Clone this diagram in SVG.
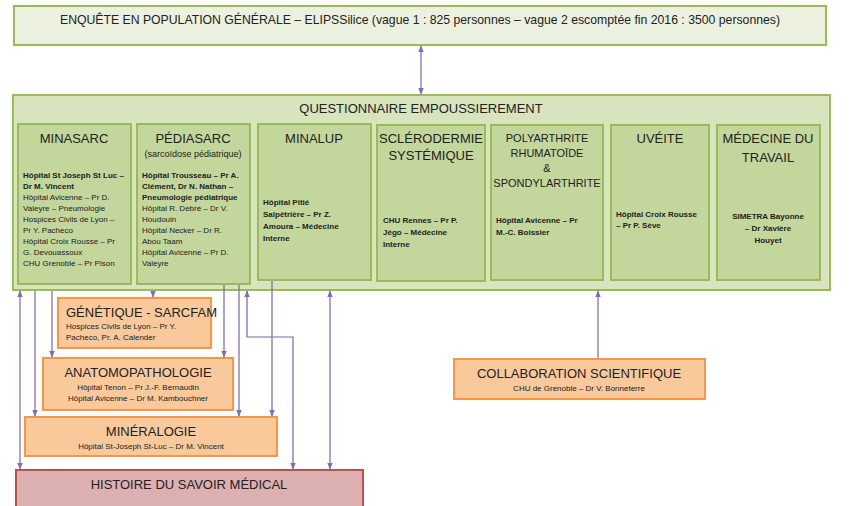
<svg xmlns="http://www.w3.org/2000/svg" width="850" height="506" viewBox="0 0 850 506">
<defs>
<marker id="ah" viewBox="0 0 10 10" refX="9" refY="5" markerWidth="6" markerHeight="6" orient="auto-start-reverse"><path d="M0,1 L10,5 L0,9 z" fill="#7e6bc4"/></marker>
<style>
text{font-family:"Liberation Sans Narrow","Liberation Sans",Arial,sans-serif;fill:#222}
.g1{fill:#ebf1de;stroke:#9bbb59;stroke-width:2}
.g2{fill:#d7e4bd;stroke:#9bbb59;stroke-width:2}
.g3{fill:#c3d69b;stroke:#9bbb59;stroke-width:2}
.o{fill:#f9c99c;stroke:#f79646;stroke-width:2}
.r{fill:#dcb0b0;stroke:#c0504d;stroke-width:2}
.t{font-size:13px;text-anchor:middle}
.s{font-size:8px}
.sb{font-size:8px;font-weight:bold}
.c{text-anchor:middle}
.ln{fill:none;stroke:#8064a2;stroke-width:1.2}
</style>
</defs>
<rect width="850" height="506" fill="#fff"/>
<g id="elips"><rect class="g1" x="14" y="6" width="812" height="39"/><text class="t" x="420" y="24" font-size="12" textLength="720" lengthAdjust="spacingAndGlyphs">ENQUÊTE EN POPULATION GÉNÉRALE – ELIPSSilice (vague 1 : 825 personnes – vague 2 escomptée fin 2016 : 3500 personnes)</text></g>
<g id="questionnaire"><rect class="g2" x="13" y="95" width="817" height="195"/><text class="t" x="421" y="113" font-size="12">QUESTIONNAIRE EMPOUSSIEREMENT</text></g>
<g id="minasarc"><rect class="g3" x="18" y="124" width="113" height="160"/><text class="t" x="74" y="143">MINASARC</text>
<text x="23" class="sb"><tspan x="23" y="178">Hôpital St Joseph St Luc –</tspan><tspan x="23" y="189">Dr M. Vincent</tspan></text>
<text class="s"><tspan x="23" y="200">Hôpital Avicenne – Pr D.</tspan><tspan x="23" y="211">Valeyre – Pneumologie</tspan><tspan x="23" y="222">Hospices Civils de Lyon –</tspan><tspan x="23" y="233">Pr Y. Pacheco</tspan><tspan x="23" y="244">Hôpital Croix Rousse – Pr</tspan><tspan x="23" y="255">G. Devouassoux</tspan><tspan x="23" y="266">CHU Grenoble – Pr Pison</tspan></text></g>
<g id="pediasarc"><rect class="g3" x="137" y="124" width="113" height="160"/><text class="t" x="193" y="143">PÉDIASARC</text><text class="c" x="193" y="157" font-size="9">(sarcoïdose pédiatrique)</text>
<text class="sb"><tspan x="142" y="178">Hôpital Trousseau – Pr A.</tspan><tspan x="142" y="189">Clément, Dr N. Nathan –</tspan><tspan x="142" y="200">Pneumologie pédiatrique</tspan></text>
<text class="s"><tspan x="142" y="211">Hôpital R. Debré – Dr V.</tspan><tspan x="142" y="222">Houdouin</tspan><tspan x="142" y="233">Hôpital Necker – Dr R.</tspan><tspan x="142" y="244">Abou Taam</tspan><tspan x="142" y="255">Hôpital Avicenne – Pr D.</tspan><tspan x="142" y="266">Valeyre</tspan></text></g>
<g id="minalup"><rect class="g3" x="258" y="124" width="113" height="156"/><text class="t" x="314" y="143">MINALUP</text>
<text class="sb"><tspan x="263" y="205">Hôpital Pitié</tspan><tspan x="263" y="217">Salpêtrière – Pr Z.</tspan><tspan x="263" y="229">Amoura – Médecine</tspan><tspan x="263" y="241">Interne</tspan></text></g>
<g id="sclero"><rect class="g3" x="377" y="125" width="108" height="156"/><text class="t" x="431" y="143">SCLÉRODERMIE</text><text class="t" x="431" y="160">SYSTÉMIQUE</text>
<text class="sb"><tspan x="383" y="223">CHU Rennes – Pr P.</tspan><tspan x="383" y="235">Jégo – Médecine</tspan><tspan x="383" y="247">Interne</tspan></text></g>
<g id="polyarthrite"><rect class="g3" x="491" y="125" width="112" height="155"/><text class="c" font-size="11"><tspan x="547" y="142">POLYARTHRITE</tspan><tspan x="547" y="157">RHUMATOÏDE</tspan><tspan x="547" y="172">&amp;</tspan><tspan x="547" y="187">SPONDYLARTHRITE</tspan></text>
<text class="sb"><tspan x="496" y="223">Hôpital Avicenne – Pr</tspan><tspan x="496" y="235">M.-C. Boissier</tspan></text></g>
<g id="uveite"><rect class="g3" x="611" y="125" width="98" height="155"/><text class="t" x="660" y="143">UVÉITE</text>
<text class="sb" font-size="7"><tspan x="616" y="217">Hôpital Croix Rousse</tspan><tspan x="616" y="228">– Pr P. Sève</tspan></text></g>
<g id="medecine"><rect class="g3" x="717" y="125" width="103" height="155"/><text class="t" x="768" y="143">MÉDECINE DU</text><text class="t" x="768" y="162">TRAVAIL</text>
<text class="sb c"><tspan x="768" y="219">SIMETRA Bayonne</tspan><tspan x="768" y="231">– Dr Xavière</tspan><tspan x="768" y="243">Houyet</tspan></text></g>
<g id="genetique"><rect class="o" x="58" y="298" width="153" height="50"/><text x="66" y="317" font-size="13">GÉNÉTIQUE - SARCFAM</text><text class="s"><tspan x="66" y="329">Hospices Civils de Lyon – Pr Y.</tspan><tspan x="66" y="340">Pacheco, Pr. A. Calender</tspan></text></g>
<g id="anatomo"><rect class="o" x="43" y="358" width="190" height="52"/><text class="t" x="138" y="377">ANATOMOPATHOLOGIE</text><text class="s c"><tspan x="138" y="390">Hôpital Tenon – Pr J.-F. Bernaudin</tspan><tspan x="138" y="401">Hôpital Avicenne – Dr M. Kambouchner</tspan></text></g>
<g id="mineralogie"><rect class="o" x="25" y="417" width="252" height="39"/><text class="t" x="151" y="436">MINÉRALOGIE</text><text class="s c" x="151" y="449">Hôpital St-Joseph St-Luc – Dr M. Vincent</text></g>
<g id="histoire"><rect class="r" x="16" y="470" width="347" height="40"/><text class="t" x="189" y="489">HISTOIRE DU SAVOIR MÉDICAL</text></g>
<g id="collaboration"><rect class="o" x="454" y="359" width="251" height="40"/><text class="t" x="579" y="378">COLLABORATION SCIENTIFIQUE</text><text class="s c" x="579" y="391">CHU de Grenoble – Dr V. Bonneterre</text></g>
<g id="connectors">
<line class="ln" x1="421" y1="46" x2="421" y2="94" marker-start="url(#ah)" marker-end="url(#ah)"/>
<line class="ln" x1="20" y1="291" x2="20" y2="469" marker-start="url(#ah)" marker-end="url(#ah)"/>
<line class="ln" x1="35" y1="291" x2="35" y2="416" marker-end="url(#ah)"/>
<line class="ln" x1="52" y1="291" x2="52" y2="357" marker-end="url(#ah)"/>
<line class="ln" x1="153" y1="291" x2="153" y2="297" marker-end="url(#ah)"/>
<line class="ln" x1="224" y1="285" x2="224" y2="357" marker-end="url(#ah)"/>
<line class="ln" x1="239" y1="285" x2="239" y2="416" marker-end="url(#ah)"/>
<polyline class="ln" points="247,291 247,337 293,337 293,469" marker-start="url(#ah)" marker-end="url(#ah)"/>
<line class="ln" x1="272" y1="281" x2="272" y2="416" marker-end="url(#ah)"/>
<line class="ln" x1="330" y1="291" x2="330" y2="469" marker-start="url(#ah)" marker-end="url(#ah)"/>
<line class="ln" x1="598" y1="358" x2="598" y2="291" marker-end="url(#ah)"/>
</g>
</svg>
